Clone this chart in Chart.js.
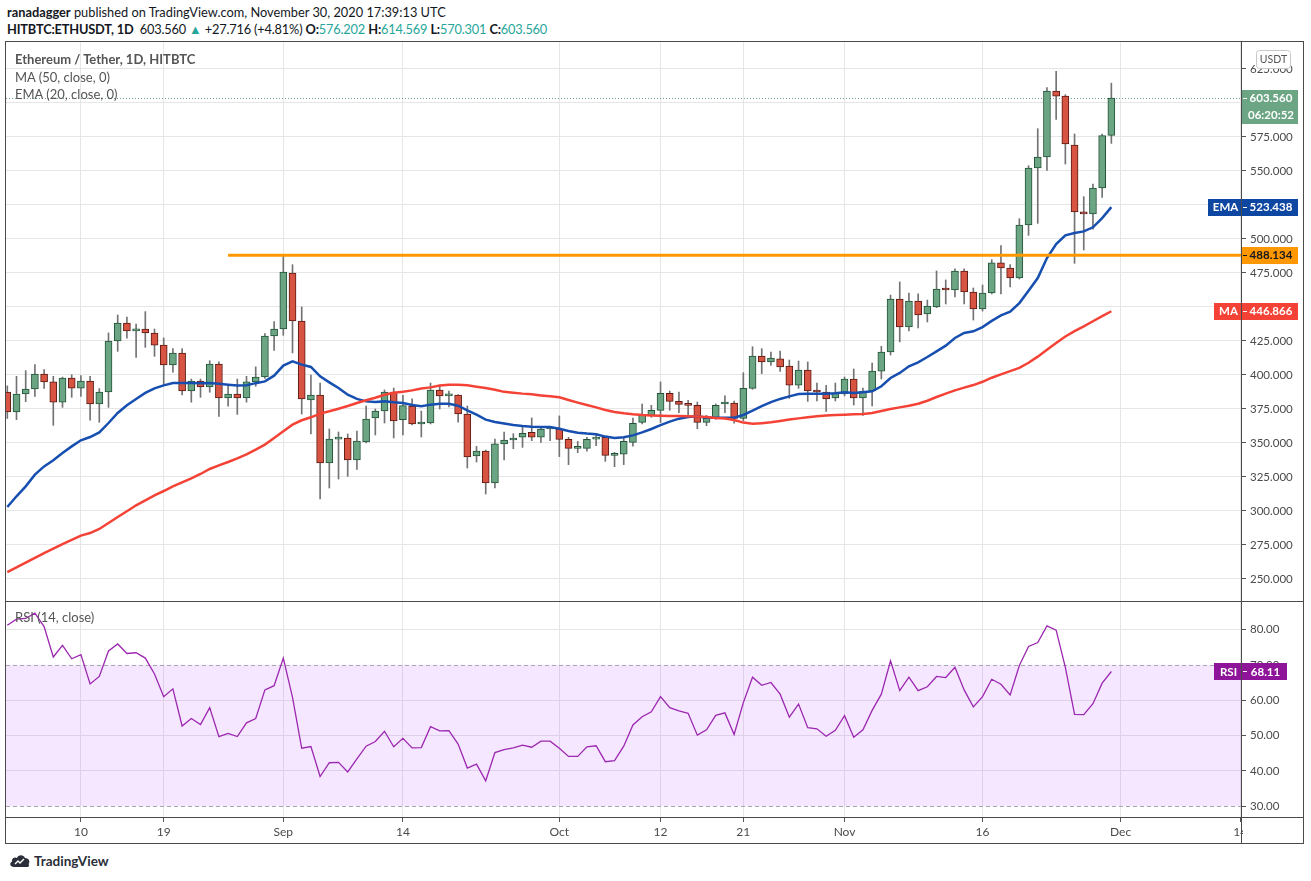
<!DOCTYPE html>
<html>
<head>
<meta charset="utf-8">
<title>ETHUSDT 1D</title>
<script src="https://cdn.jsdelivr.net/npm/chart.js@4.4.0/dist/chart.umd.min.js"></script>
<style>
  body { margin:0; background:#fff; width:1311px; height:881px; overflow:hidden; position:relative; font-family:Lato, 'Open Sans', sans-serif; color:#131722; }
  .abs { position:absolute; }
  .hdr { left:7px; font-size:12.8px; white-space:nowrap; }
  .hdr b { font-weight:700; }
  .tq { color:#26a69a; }
  .legend { left:15px; font-size:13px; color:#555; white-space:nowrap; }
  .line { position:absolute; background:#4a4a4a; }
  canvas { position:absolute; }
</style>
</head>
<body>

<div class="abs hdr" style="top:4px;"><b>ranadagger</b> published on TradingView.com, November 30, 2020 17:39:13 UTC</div>
<div class="abs hdr" style="top:21px; letter-spacing:-0.18px;"><b>HITBTC:ETHUSDT, 1D</b>&nbsp; 603.560 <span class="tq">&#9650;</span> +27.716 (+4.81%) <b>O:</b><span class="tq">576.202</span> <b>H:</b><span class="tq">614.569</span> <b>L:</b><span class="tq">570.301</span> <b>C:</b><span class="tq">603.560</span></div>

<canvas id="price" width="1298" height="559" style="left:6px; top:42px;"></canvas>
<canvas id="rsi" width="1298" height="243" style="left:6px; top:601px;"></canvas>

<div class="abs legend" style="top:51px; font-weight:700;">Ethereum / Tether, 1D, HITBTC</div>
<div class="abs legend" style="top:69px;">MA (50, close, 0)</div>
<div class="abs legend" style="top:86px;">EMA (20, close, 0)</div>
<div class="abs legend" style="top:609px;">RSI (14, close)</div>

<!-- frame -->
<div class="line" style="left:5px; top:41px; width:1299px; height:1px;"></div>
<div class="line" style="left:5px; top:843px; width:1299px; height:1px;"></div>
<div class="line" style="left:5px; top:41px; width:1px; height:803px;"></div>
<div class="line" style="left:1303px; top:41px; width:1px; height:803px;"></div>
<div class="line" style="left:5px; top:601px; width:1299px; height:1px;"></div>
<div class="line" style="left:5px; top:817px; width:1299px; height:1px;"></div>
<div class="line" style="left:1241px; top:41px; width:1px; height:803px;"></div>

<!-- footer -->
<svg class="abs" style="left:9px; top:853px;" width="22" height="16" viewBox="0 0 22 16">
  <path d="M5 14 C1 14 0 10 3 8.5 C2.5 5 6 3.5 8 5 C9 1.5 14.5 1 16 5 C20 5 21.5 9 19.5 11 C21 13.5 19 14 17.5 14 Z" fill="#2a2e39"/>
  <path d="M6 11 L9 8 L11 10 L15 6" stroke="#fff" stroke-width="1.4" fill="none"/>
</svg>
<div class="abs" style="left:34px; top:853px; font-size:13.5px; font-weight:700; color:#2a2e39;">TradingView</div>

<script>
// daily candles from Aug 2 2020 (index 0) to Nov 30 2020 (index 120)
const opens = [
  387.5, 372.8, 386.0, 389.7, 400.7, 394.9, 380.1, 397.8, 390.4, 395.6,
  378.7, 387.5, 425.0, 438.2, 432.4, 433.8, 430.9, 422.0, 407.4, 416.2,
  388.2, 395.6, 391.2, 408.1, 383.1, 386.0, 383.1, 394.9, 398.5, 428.7,
  433.8, 475.0, 439.7, 381.6, 385.3, 335.3, 352.9, 353.6, 337.5, 350.7,
  368.4, 373.5, 387.5, 367.2, 377.2, 364.0, 364.7, 389.0, 384.6, 385.3,
  371.3, 340.5, 344.1, 320.6, 349.3, 352.2, 354.2, 357.8, 354.2, 360.3,
  360.3, 352.7, 346.1, 346.1, 352.9, 354.2, 340.9, 341.7, 350.5, 365.2,
  370.3, 374.0, 386.5, 380.6, 378.4, 377.7, 365.2, 368.1, 378.7, 379.4,
  368.1, 390.2, 414.0, 409.6, 411.8, 406.6, 392.6, 403.7, 388.2, 387.5,
  383.1, 386.0, 397.0, 383.1, 388.2, 402.9, 416.9, 455.9, 435.3, 454.4,
  444.9, 450.0, 463.2, 462.5, 476.5, 461.0, 448.5, 460.3, 482.4, 478.7,
  471.3, 510.3, 552.2, 560.3, 608.8, 605.1, 569.1, 519.9, 518.4, 537.5,
  576.202
];
const highs = [
  392.0, 399.0, 403.2, 407.6, 403.9, 399.0, 398.5, 400.2, 399.5, 399.0,
  390.0, 430.9, 444.1, 442.6, 437.5, 446.6, 433.8, 427.2, 419.4, 419.4,
  397.0, 397.0, 410.5, 409.6, 392.4, 397.0, 399.0, 406.0, 430.4, 439.2,
  488.5, 481.1, 450.0, 400.0, 394.1, 360.3, 358.1, 356.6, 358.8, 377.2,
  375.0, 389.0, 390.4, 385.0, 382.4, 373.5, 394.1, 392.6, 388.2, 385.6,
  377.2, 347.5, 344.8, 352.9, 358.1, 356.9, 362.7, 368.4, 360.8, 361.5,
  369.9, 354.2, 351.2, 354.2, 356.6, 354.5, 343.1, 353.7, 368.4, 378.7,
  377.7, 394.9, 388.2, 387.5, 381.4, 380.1, 370.3, 378.7, 384.6, 380.9,
  401.7, 420.8, 419.4, 416.9, 417.6, 411.0, 410.3, 409.6, 394.1, 392.4,
  394.1, 398.5, 404.4, 390.4, 408.8, 421.1, 458.8, 468.4, 460.3, 459.6,
  455.1, 476.5, 469.9, 478.0, 478.0, 464.0, 466.2, 484.8, 495.1, 481.1,
  514.9, 553.9, 581.1, 611.3, 623.3, 606.1, 577.2, 531.1, 540.4, 577.2,
  614.569
];
const lows = [
  368.0, 367.2, 380.4, 384.3, 390.2, 363.0, 376.2, 383.6, 384.3, 366.7,
  365.2, 376.2, 417.4, 427.0, 413.0, 420.3, 413.7, 392.6, 402.0, 385.3,
  380.0, 383.6, 387.3, 369.6, 377.0, 371.0, 380.0, 391.7, 397.5, 418.1,
  429.2, 416.2, 371.3, 356.6, 308.8, 316.9, 323.5, 325.5, 330.6, 350.0,
  355.9, 364.7, 353.7, 355.9, 363.2, 354.4, 364.0, 375.0, 376.5, 365.4,
  331.6, 336.0, 312.5, 316.9, 337.5, 345.8, 346.8, 351.7, 350.5, 351.7,
  340.0, 334.1, 342.9, 343.9, 348.0, 336.5, 332.6, 334.1, 347.6, 364.0,
  368.9, 365.0, 374.0, 372.3, 369.9, 360.5, 362.7, 367.4, 372.3, 364.5,
  366.4, 389.5, 401.0, 407.0, 402.7, 382.8, 390.2, 380.6, 380.9, 373.3,
  380.9, 384.6, 377.9, 370.3, 377.2, 397.1, 414.7, 424.3, 432.4, 434.6,
  439.0, 449.5, 452.2, 457.4, 452.2, 440.4, 447.0, 459.6, 459.6, 464.7,
  470.6, 502.7, 511.5, 550.5, 588.0, 555.1, 482.1, 491.9, 507.3, 530.6,
  570.301
];
const closes = [
  372.8, 386.0, 389.7, 400.7, 394.9, 380.1, 397.8, 390.4, 395.6, 378.7,
  387.5, 425.0, 438.2, 432.4, 433.8, 430.9, 422.0, 407.4, 416.2, 388.2,
  395.6, 391.2, 408.1, 383.1, 386.0, 383.1, 394.9, 398.5, 428.7, 433.8,
  475.7, 439.7, 382.4, 385.3, 335.3, 352.9, 353.6, 337.5, 351.5, 367.6,
  373.5, 387.5, 366.2, 377.5, 364.0, 364.7, 389.0, 384.6, 385.3, 371.3,
  339.7, 344.1, 320.6, 349.3, 352.2, 353.4, 357.1, 354.2, 360.3, 360.8,
  352.7, 346.1, 346.6, 352.7, 353.7, 340.9, 341.7, 351.2, 364.5, 370.3,
  374.0, 386.5, 380.6, 378.4, 377.7, 365.2, 368.1, 377.7, 379.4, 368.1,
  390.2, 414.0, 409.6, 412.5, 405.9, 392.6, 403.7, 388.2, 387.5, 382.4,
  386.8, 397.0, 383.1, 388.2, 402.9, 416.9, 455.9, 435.3, 454.4, 444.1,
  450.7, 463.2, 462.5, 476.5, 461.0, 448.5, 460.3, 482.4, 478.7, 471.3,
  510.3, 552.2, 560.3, 608.8, 605.1, 569.9, 519.9, 518.4, 537.5, 576.0,
  603.560
];

// indicators
const ema20 = [
  302.9, 310.8, 318.1, 326.7, 332.8, 337.3, 342.6, 347.5, 352.0, 354.4,
  357.8, 364.7, 372.1, 377.7, 382.4, 386.8, 390.2, 392.4, 394.1, 394.1,
  394.1, 393.9, 394.1, 393.6, 392.9, 392.2, 392.4, 394.0, 395.3, 399.5,
  406.9, 410.0, 407.6, 405.9, 399.0, 394.6, 390.4, 385.5, 382.4, 380.6,
  380.1, 380.6, 379.9, 379.4, 377.9, 377.0, 378.2, 378.9, 378.9, 377.4,
  374.0, 370.8, 367.2, 365.4, 364.3, 363.2, 362.5, 362.0, 361.8, 361.8,
  360.5, 358.8, 357.6, 356.9, 356.4, 354.7, 353.7, 354.2, 355.6, 357.8,
  360.3, 363.2, 365.7, 367.9, 369.1, 369.6, 368.6, 368.6, 368.6, 368.6,
  370.6, 373.8, 377.1, 380.1, 382.4, 384.3, 386.0, 386.3, 386.3, 386.3,
  386.5, 387.3, 386.8, 387.3, 388.0, 391.7, 397.8, 401.5, 406.4, 409.3,
  413.2, 417.4, 421.6, 427.2, 430.9, 432.1, 435.2, 439.8, 443.8, 446.5,
  452.9, 462.0, 471.3, 486.0, 496.3, 502.7, 504.4, 505.6, 508.6, 515.4,
  523.438
];
const ma50 = [
  255.1, 258.5, 262.0, 265.5, 269.0, 272.3, 275.6, 278.8, 281.9, 283.8,
  286.8, 291.2, 295.6, 299.8, 304.2, 307.8, 311.5, 314.7, 318.1, 321.1,
  324.0, 327.2, 330.9, 333.6, 336.0, 338.7, 341.7, 345.1, 348.8, 353.7,
  358.6, 363.5, 366.7, 368.9, 371.6, 373.3, 375.2, 377.2, 379.4, 381.4,
  383.3, 385.5, 387.0, 387.7, 388.7, 390.0, 390.9, 392.2, 392.9, 392.9,
  392.4, 391.4, 390.4, 389.2, 387.6, 387.0, 386.3, 385.8, 385.0, 384.3,
  383.6, 381.6, 379.7, 377.9, 376.2, 374.3, 372.8, 371.8, 371.1, 370.6,
  370.3, 370.1, 369.9, 369.9, 369.6, 369.4, 369.1, 368.4, 368.0, 366.9,
  365.0, 364.1, 364.6, 365.2, 366.2, 367.2, 368.1, 368.9, 369.6, 370.3,
  370.6, 370.8, 371.1, 371.3, 372.1, 373.5, 375.0, 376.2, 377.4, 378.9,
  381.1, 383.8, 386.3, 388.7, 390.7, 392.6, 395.0, 398.0, 400.5, 402.8,
  405.2, 409.0, 413.5, 418.5, 423.5, 428.3, 432.3, 435.8, 439.5, 443.3,
  446.866
];
const rsi14 = [
  81.2, 82.9, 83.1, 84.6, 80.8, 72.2, 75.5, 71.7, 72.9, 64.6,
  66.7, 73.9, 75.9, 73.2, 73.4, 71.9, 67.4, 61.0, 63.2, 52.7,
  54.8, 53.1, 57.9, 49.7, 50.6, 49.7, 53.6, 54.8, 62.9, 64.1,
  71.9, 60.8, 46.4, 46.9, 38.4, 42.3, 42.4, 39.7, 43.4, 47.0,
  48.3, 51.2, 46.8, 49.2, 46.5, 46.6, 52.5, 51.3, 51.4, 47.6,
  40.8, 41.9, 37.2, 45.2, 46.0, 46.5, 47.3, 46.7, 48.4, 48.4,
  46.4, 44.1, 44.1, 46.8, 47.1, 42.6, 42.9, 47.0, 53.0, 55.3,
  56.7, 61.0, 57.9, 57.0, 56.3, 50.1, 51.6, 55.7, 56.4, 50.3,
  59.3, 66.5, 64.2, 65.0, 61.7, 55.2, 58.9, 52.2, 51.9, 49.8,
  51.5, 55.6, 49.5, 51.6, 57.1, 61.7, 71.1, 62.7, 66.5, 62.7,
  63.8, 66.7, 66.4, 69.3, 62.9, 58.1, 61.0, 65.9, 64.5, 61.5,
  69.8, 75.2, 76.3, 81.0, 79.8, 69.3, 56.0, 55.9, 59.0, 64.8,
  68.11
];

const resistance = 488.134;
const resistanceStart = 24;   // Aug 26
const countdown = '06:20:52';

// time axis: day index -> label
const tickDays   = [8, 17, 30, 43, 60, 71, 80, 91, 106, 121, 134];
const tickLabels = ['10', '19', 'Sep', '14', 'Oct', '12', '21', 'Nov', '16', 'Dec', '14'];
const priceTicks = [250, 275, 300, 325, 350, 375, 400, 425, 450, 475, 500, 525, 550, 575, 600, 625];
const rsiTicks   = [30, 40, 50, 60, 70, 80];

const X_MIN = -0.141, X_MAX = 134.2;
const GRID = '#e6e6e6';
const AXIS_TXT = '#4a4a4a';
const UP = '#6ba583', UP_BORDER = '#225437';
const DOWN = '#d75442', DOWN_BORDER = '#5b1a13';

const days = closes.map((_, i) => i);
const last = closes.length - 1;

// no edge padding from tick labels, the panes must fill their canvases
function noPad(s) {
    s.paddingTop = 0; s.paddingBottom = 0; s.paddingLeft = 0; s.paddingRight = 0;
}

function xScale(showLabels) {
    return {
        type: 'linear', min: X_MIN, max: X_MAX, offset: false,
        afterBuildTicks: s => { s.ticks = tickDays.map(v => ({ value: v })); },
        afterFit: s => { s.height = showLabels ? 26 : 0; noPad(s); },
        grid: { color: GRID, offset: false, drawTicks: showLabels, tickLength: 4, tickColor: '#555' },
        border: { display: false },
        ticks: {
            display: showLabels, color: AXIS_TXT, padding: 3, maxRotation: 0, autoSkip: false,
            font: { family: 'Lato', size: 12 },
            callback: v => { const k = tickDays.indexOf(v); return k < 0 ? '' : tickLabels[k]; }
        }
    };
}

function badge(ctx, x, yc, w, bg, text, fg) {
    ctx.fillStyle = bg;
    ctx.fillRect(x, Math.round(yc - 8.5), w, 17);
    ctx.fillStyle = fg;
    ctx.textBaseline = 'middle';
    ctx.textAlign = 'center';
    ctx.fillText(text, x + w / 2 + 1, yc + 0.5);
}

function valueBadge(ctx, x, yc, w, bg, text, fg) {
    badge(ctx, x, yc, w, bg, text, fg);
    // small tick dash at the axis
    ctx.strokeStyle = fg;
    ctx.lineWidth = 1;
    ctx.beginPath();
    ctx.moveTo(x + 1, Math.round(yc) + 0.5);
    ctx.lineTo(x + 5, Math.round(yc) + 0.5);
    ctx.stroke();
}

const priceOverlay = {
    id: 'priceOverlay',
    beforeDatasetsDraw(chart) {
        const { ctx, chartArea: a, scales: { y } } = chart;
        const py = Math.round(y.getPixelForValue(closes[last])) + 0.5;
        ctx.save();
        ctx.strokeStyle = UP;
        ctx.setLineDash([1, 2]);
        ctx.lineWidth = 1;
        ctx.beginPath();
        ctx.moveTo(a.left, py);
        ctx.lineTo(a.right, py);
        ctx.stroke();
        ctx.restore();
    },
    afterDraw(chart) {
        const { ctx, chartArea: a, scales: { y } } = chart;
        const r = a.right;
        ctx.save();
        ctx.font = 'bold 11.5px Lato';

        const pc = y.getPixelForValue(closes[last]);
        valueBadge(ctx, r, pc, 56, UP, closes[last].toFixed(3), '#fff');
        badge(ctx, r, pc + 17, 56, UP, countdown, '#fff');

        const pe = y.getPixelForValue(ema20[last]);
        badge(ctx, r - 34, pe, 33, '#0d47a1', 'EMA', '#fff');
        valueBadge(ctx, r, pe, 56, '#0d47a1', ema20[last].toFixed(3), '#fff');

        const pr = y.getPixelForValue(resistance);
        valueBadge(ctx, r, pr, 56, '#ff9800', resistance.toFixed(3), '#131722');

        const pm = y.getPixelForValue(ma50[last]);
        badge(ctx, r - 28, pm, 27, '#f44336', 'MA', '#fff');
        valueBadge(ctx, r, pm, 56, '#f44336', ma50[last].toFixed(3), '#fff');

        // currency box
        ctx.fillStyle = '#fff';
        ctx.strokeStyle = '#c8c8c8';
        ctx.lineWidth = 1;
        ctx.beginPath();
        ctx.roundRect(r + 14.5, 8.5, 34, 18, 3);
        ctx.fill();
        ctx.stroke();
        ctx.fillStyle = '#555';
        ctx.font = '10.5px Lato';
        ctx.textAlign = 'center';
        ctx.textBaseline = 'middle';
        ctx.fillText('USDT', r + 31.5, 18);
        ctx.restore();
    }
};

const rsiOverlay = {
    id: 'rsiOverlay',
    beforeDatasetsDraw(chart) {
        const { ctx, chartArea: a, scales: { y } } = chart;
        const top = y.getPixelForValue(70), bot = y.getPixelForValue(30);
        ctx.save();
        ctx.fillStyle = 'rgba(153, 21, 255, 0.1)';
        ctx.fillRect(a.left, top, a.right - a.left, bot - top);
        ctx.strokeStyle = '#a8a8b0';
        ctx.lineWidth = 1;
        ctx.setLineDash([4, 3]);
        [top, bot].forEach(p => {
            ctx.beginPath();
            ctx.moveTo(a.left, Math.round(p) + 0.5);
            ctx.lineTo(a.right, Math.round(p) + 0.5);
            ctx.stroke();
        });
        ctx.restore();
    },
    afterDraw(chart) {
        const { ctx, chartArea: a, scales: { y } } = chart;
        ctx.save();
        // the time labels are cut at the price axis
        ctx.fillStyle = '#fff';
        ctx.fillRect(a.right + 1, a.bottom + 1, chart.width - a.right, chart.height - a.bottom);
        const pv = y.getPixelForValue(rsi14[last]);
        ctx.font = 'bold 11.5px Lato';
        badge(ctx, a.right - 28, pv, 27, '#8e1599', 'RSI', '#fff');
        valueBadge(ctx, a.right, pv, 45, '#8e1599', rsi14[last].toFixed(2), '#fff');
        ctx.restore();
    }
};

new Chart(document.getElementById('price'), {
    type: 'bar',
    data: {
        datasets: [
            {
                type: 'bar', label: 'wick',
                data: days.map(i => ({ x: i, y: [lows[i], highs[i]] })),
                backgroundColor: '#737375', barThickness: 1, grouped: false, order: 3
            },
            {
                type: 'bar', label: 'body',
                data: days.map(i => ({ x: i, y: [opens[i], closes[i]] })),
                backgroundColor: days.map(i => closes[i] >= opens[i] ? UP : DOWN),
                borderColor: days.map(i => closes[i] >= opens[i] ? UP_BORDER : DOWN_BORDER),
                borderWidth: 1, borderSkipped: false, barThickness: 7, minBarLength: 2,
                grouped: false, order: 2
            },
            {
                type: 'line', label: 'MA 50',
                data: days.map(i => ({ x: i, y: ma50[i] })),
                borderColor: '#f44336', borderWidth: 2.5, pointRadius: 0, tension: 0, fill: false, order: 1
            },
            {
                type: 'line', label: 'EMA 20',
                data: days.map(i => ({ x: i, y: ema20[i] })),
                borderColor: '#164fb0', borderWidth: 2.5, pointRadius: 0, tension: 0, fill: false, order: 1
            },
            {
                type: 'line', label: 'resistance',
                data: [{ x: resistanceStart, y: resistance }, { x: X_MAX, y: resistance }],
                borderColor: '#ff9800', borderWidth: 3, pointRadius: 0, fill: false, order: 0
            }
        ]
    },
    options: {
        responsive: false,
        animation: false,
        layout: { padding: 0 },
        plugins: { legend: { display: false }, tooltip: { enabled: false } },
        scales: {
            x: xScale(false),
            y: {
                position: 'right', min: 233.82, max: 644.85,
                afterBuildTicks: s => { s.ticks = priceTicks.map(v => ({ value: v })); },
                afterFit: s => { s.width = 62; noPad(s); },
                grid: { color: GRID, tickLength: 4, tickColor: '#555' },
                border: { display: false },
                ticks: { color: AXIS_TXT, padding: 4, font: { family: 'Lato', size: 11.5 }, callback: v => v.toFixed(3) }
            }
        }
    },
    plugins: [priceOverlay]
});

new Chart(document.getElementById('rsi'), {
    type: 'line',
    data: {
        datasets: [{
            label: 'RSI',
            data: days.map(i => ({ x: i, y: rsi14[i] })),
            borderColor: '#9c27b0', borderWidth: 1.3, pointRadius: 0, tension: 0, fill: false
        }]
    },
    options: {
        responsive: false,
        animation: false,
        layout: { padding: 0 },
        plugins: { legend: { display: false }, tooltip: { enabled: false } },
        scales: {
            x: xScale(true),
            y: {
                position: 'right', min: 26.68, max: 88.04,
                afterBuildTicks: s => { s.ticks = rsiTicks.map(v => ({ value: v })); },
                afterFit: s => { s.width = 62; noPad(s); },
                grid: {
                    color: c => (c.tick && (c.tick.value === 30 || c.tick.value === 70)) ? 'rgba(0,0,0,0)' : GRID,
                    tickLength: 4, tickColor: '#555'
                },
                border: { display: false },
                ticks: { color: AXIS_TXT, padding: 4, font: { family: 'Lato', size: 11.5 }, callback: v => v.toFixed(2) }
            }
        }
    },
    plugins: [rsiOverlay]
});
</script>
</body>
</html>
